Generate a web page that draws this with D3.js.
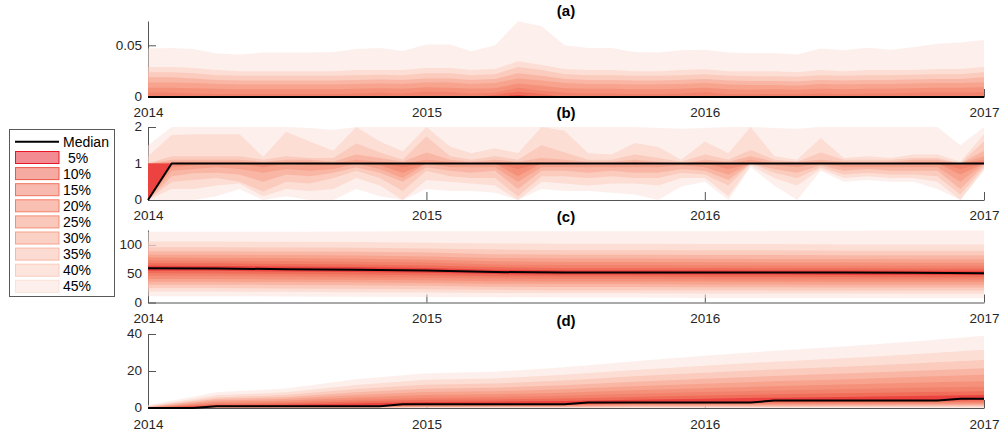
<!DOCTYPE html>
<html>
<head>
<meta charset="utf-8">
<script src="https://cdn.jsdelivr.net/npm/d3@7"></script>
<style>
  body { margin: 0; background: #fff; }
  svg { display: block; font-family: "Liberation Sans", Arial, Helvetica, sans-serif; }
</style>
</head>
<body>
<svg id="chart" width="1000" height="437"></svg>
<script>
// ---- time axis -------------------------------------------------------------
const months = [
  "2014-01","2014-02","2014-03","2014-04","2014-05","2014-06","2014-07","2014-08","2014-09","2014-10","2014-11","2014-12",
  "2015-01","2015-02","2015-03","2015-04","2015-05","2015-06","2015-07","2015-08","2015-09","2015-10","2015-11","2015-12",
  "2016-01","2016-02","2016-03","2016-04","2016-05","2016-06","2016-07","2016-08","2016-09","2016-10","2016-11","2016-12",
  "2017-01"
];
const quarters = ["2014-01","2014-04","2014-07","2014-10","2015-01","2015-04","2015-07","2015-10",
                  "2016-01","2016-04","2016-07","2016-10","2017-01"];
const yearTicks = ["2014","2015","2016","2017"];

// percentile levels of each table column
const levels = [5,10,15,20,25,30,35,40,45,50,55,60,65,70,75,80,85,90,95];
// fan bands: "5%" = 45th..55th percentile, ..., "45%" = 5th..95th percentile
const bandLabels = ["5%","10%","15%","20%","25%","30%","35%","40%","45%"];
const bandColors = ["#e71727","#ed5745","#f1735d","#f37f65","#f58f77","#f7a18b","#f9b7a5","#fbcbbd","#fbe1d9"];

// ---- (a) monthly; all percentiles up to the median are zero ----------------
const aZero = [0,0,0,0,0,0,0,0,0,0,0,0,0,0,0,0,0,0,0,0,0,0,0,0,0,0,0,0,0,0,0,0,0,0,0,0,0];
const aQ55 = [0,0,0,0,0,0,0,0,0,0,0,0,0,0,0,0,0.002,0,0,0,0,0,0,0,0,0,0,0,0,0,0,0,0,0,0,0,0];
const aQ60 = [0,0,0,0,0,0,0,0,0,0,0,0,0.001,0,0,0.002,0.005,0.003,0,0,0,0,0,0,0.001,0,0,0,0,0,0,0,0,0,0,0,0];
const aQ65 = [0.004,0.004,0.0035,0.003,0.003,0.003,0.003,0.003,0.003,0.0035,0.004,0.0035,0.005,0.0045,0.0035,0.004,0.009,0.006,0.004,0.0035,0.0035,0.003,0.003,0.0035,0.0045,0.003,0.003,0.003,0.003,0.0035,0.003,0.0035,0.0035,0.004,0.004,0.004,0.0045];
const aQ70 = [0.009,0.009,0.0085,0.008,0.0075,0.0075,0.0075,0.0075,0.0075,0.008,0.0085,0.008,0.0095,0.009,0.008,0.0085,0.013,0.011,0.0085,0.008,0.008,0.0075,0.0075,0.008,0.009,0.0075,0.007,0.0075,0.007,0.008,0.0075,0.008,0.008,0.0085,0.009,0.009,0.0095];
const aQ75 = [0.014,0.014,0.0135,0.0125,0.012,0.012,0.012,0.012,0.012,0.0125,0.013,0.0125,0.014,0.014,0.0125,0.0135,0.018,0.016,0.0135,0.0125,0.0125,0.012,0.012,0.0125,0.0135,0.012,0.0115,0.0115,0.011,0.0125,0.012,0.0125,0.0125,0.013,0.0135,0.0135,0.014];
const aQ80 = [0.019,0.019,0.018,0.0165,0.016,0.016,0.016,0.016,0.016,0.0165,0.017,0.0165,0.018,0.018,0.0165,0.0175,0.023,0.0205,0.0175,0.0165,0.0165,0.016,0.016,0.0165,0.0175,0.016,0.0155,0.0155,0.015,0.0165,0.016,0.0165,0.0165,0.017,0.0175,0.0175,0.019];
const aQ85 = [0.024,0.024,0.023,0.021,0.0205,0.0205,0.0205,0.0205,0.0205,0.021,0.0215,0.021,0.023,0.023,0.021,0.022,0.029,0.026,0.022,0.021,0.021,0.0205,0.0205,0.021,0.022,0.0205,0.02,0.02,0.0195,0.021,0.0205,0.021,0.021,0.0215,0.022,0.022,0.024];
const aQ90 = [0.029,0.029,0.028,0.026,0.025,0.025,0.025,0.025,0.025,0.026,0.026,0.026,0.028,0.028,0.026,0.027,0.0345,0.031,0.027,0.026,0.026,0.025,0.025,0.026,0.0268,0.025,0.025,0.025,0.024,0.026,0.025,0.026,0.026,0.026,0.027,0.027,0.029];
const aQ95 = [0.047,0.0474,0.0464,0.042,0.041,0.043,0.043,0.043,0.0435,0.0465,0.0474,0.0445,0.0507,0.0507,0.0442,0.05,0.0732,0.0684,0.05,0.0474,0.0474,0.0435,0.043,0.0452,0.0458,0.043,0.0423,0.0426,0.041,0.0468,0.0452,0.0477,0.0458,0.0484,0.0516,0.0526,0.0551];

// ---- (b) monthly percentiles, one row per month (q5 ... q95) ---------------
const bQuantiles = [
  [0,0,0,0,0,0,0,0,0,0, 1,1,1,1,1,1,1,1.2,1.5],
  [0,0.3,0.5,0.65,0.8,0.9,1,1,1,1, 1,1,1,1,1.05,1.1,1.2,1.78,2],
  [0,0.3,0.55,0.73,0.85,0.95,1,1,1,1, 1,1,1,1,1.05,1.1,1.2,1.8,2],
  [0.1,0.4,0.6,0.75,0.9,1,1,1,1,1, 1,1,1,1,1.05,1.1,1.2,1.8,2],
  [0.3,0.45,0.5,0.7,0.85,1,1,1,1,1, 1,1,1,1,1.05,1.1,1.2,1.8,2],
  [0,0.1,0.23,0.5,0.75,0.9,1,1,1,1, 1,1,1,1,1,1.05,1.1,1.18,2],
  [0.1,0.3,0.5,0.7,0.85,1,1,1,1,1, 1,1,1,1,1.05,1.1,1.2,1.87,2],
  [0,0.25,0.45,0.65,0.8,0.95,1,1,1,1, 1,1,1,1,1.05,1.1,1.15,1.6,1.97],
  [0,0.3,0.6,0.75,0.85,0.95,1,1,1,1, 1,1,1,1,1,1.05,1.15,1.35,1.92],
  [0.3,0.6,0.8,0.9,1,1,1,1,1,1, 1,1,1,1,1.1,1.25,1.55,2,2],
  [0.1,0.4,0.6,0.75,0.85,0.95,1,1,1,1, 1,1,1,1,1.05,1.15,1.3,1.6,2],
  [0,0,0.25,0.5,0.6,0.75,0.9,1,1,1, 1,1,1,1,1,1.05,1.1,1.33,2],
  [0.3,0.55,0.8,0.9,1,1,1,1,1,1, 1,1,1,1,1.1,1.3,1.74,2,2],
  [0.25,0.5,0.65,0.8,0.9,1,1,1,1,1, 1,1,1,1,1.05,1.1,1.2,1.46,2],
  [0.25,0.45,0.6,0.75,0.9,1,1,1,1,1, 1,1,1,1,1,1.05,1.1,1.28,2],
  [0.2,0.4,0.6,0.8,0.9,1,1,1,1,1, 1,1,1,1,1.05,1.1,1.2,1.42,2],
  [0,0,0.1,0.3,0.5,0.65,0.85,1,1,1, 1,1,1,1,1,1.05,1.1,1.28,2],
  [0.3,0.5,0.65,0.8,0.9,1,1,1,1,1, 1,1,1,1,1.05,1.15,1.5,2,2],
  [0.25,0.45,0.65,0.8,0.9,1,1,1,1,1, 1,1,1,1,1.05,1.1,1.3,1.9,2],
  [0.25,0.4,0.6,0.75,0.9,1,1,1,1,1, 1,1,1,1,1,1.05,1.1,1.28,2],
  [0.2,0.45,0.65,0.8,0.9,1,1,1,1,1, 1,1,1,1,1,1.05,1.1,1.25,2],
  [0.15,0.45,0.6,0.75,0.9,1,1,1,1,1, 1,1,1,1,1.05,1.1,1.25,1.56,2],
  [0,0.4,0.6,0.75,0.9,1,1,1,1,1, 1,1,1,1,1,1.05,1.15,1.45,1.97],
  [0.37,0.6,0.75,0.85,0.95,1,1,1,1,1, 1,1,1,1,1,1,1.05,1.1,1.95],
  [0.5,0.6,0.7,0.8,0.9,1,1,1,1,1, 1,1,1,1,1.05,1.1,1.25,1.6,1.97],
  [0,0.1,0.4,0.55,0.7,0.85,1,1,1,1, 1,1,1,1,1,1.05,1.1,1.28,2],
  [0.9,0.95,1,1,1,1,1,1,1,1, 1,1,1,1,1.1,1.2,1.37,2,2],
  [0.4,0.6,0.75,0.85,0.95,1,1,1,1,1, 1,1,1,1,1,1.05,1.1,1.2,1.97],
  [0,0.4,0.6,0.75,0.9,1,1,1,1,1, 1,1,1,1,1,1.05,1.05,1.1,1.95],
  [0.8,0.85,0.9,0.95,1,1,1,1,1,1, 1,1,1,1,1.05,1.1,1.3,1.7,2],
  [0.5,0.6,0.7,0.8,0.9,1,1,1,1,1, 1,1,1,1,1,1.05,1.1,1.15,2],
  [0.55,0.65,0.75,0.85,0.9,1,1,1,1,1, 1,1,1,1,1,1.05,1.1,1.2,2],
  [0.5,0.6,0.7,0.8,0.9,1,1,1,1,1, 1,1,1,1,1,1.05,1.1,1.15,2],
  [0.5,0.6,0.7,0.8,0.9,1,1,1,1,1, 1,1,1,1,1.05,1.1,1.15,1.25,2],
  [0.3,0.5,0.65,0.8,0.9,1,1,1,1,1, 1,1,1,1,1.05,1.1,1.15,1.25,2],
  [0,0,0.15,0.3,0.5,0.7,0.85,1,1,1, 1,1,1,1,1,1,1,1.05,1.5],
  [0.8,0.85,0.9,0.95,1,1,1,1,1,1, 1,1,1.05,1.1,1.2,1.35,1.6,1.8,2]
];

// ---- (c) quarterly percentiles (q5 ... q95) --------------------------------
const cQuantiles = [
  [11,19,25,31,36,41,46,51,55,59.5,64,68,73,78,83,89,96,106,123],
  [11,19,25,31,36,41,46,50.5,55,59,63.5,68,72.5,77.5,83,89,96,106,123],
  [10.5,18.5,24.5,30.5,35.5,40,45,49.5,54,58,62.5,67,72,77,82.5,88.5,95.5,105.5,123],
  [10,18,24,30,35,39.5,44,48.5,53,57,61.5,66,71,76,81.5,88,95,105,123.5],
  [9.5,17.5,23,29,34,38.5,43,47.5,51.5,55.5,60,64.5,69.5,74.5,80,87,94,104,124],
  [9,16.5,22,27.5,32.5,37,41.5,45.5,49.5,53,57,61.5,66,71.5,77.5,84,92,102.5,124],
  [8.5,16,21.5,27,32,36.5,41,45,48.5,52,56,60,65,70.5,76.5,83,91,102,124],
  [8.5,16,21.5,27,32,36.5,41,45,48.5,52,56,60,65,70.5,76.5,83,91,102,124],
  [8,15.5,21.5,26.5,31.5,36.5,40.5,44.5,48.5,52,56,60,64.5,70,76,82.5,90.5,101.5,124],
  [8,15.5,21,26.5,31.5,36,40.5,44.5,48.5,52,55.5,59.5,64.5,69.5,75.5,82.5,90.5,101.5,124.5],
  [8,15.5,21,26,31,36,40.5,44.5,48,52,55.5,59.5,64,69.5,75.5,82,90,101,124.5],
  [7.5,15,21,26,31,36,40,44,48,51.5,55,59,64,69,75,82,90,101,125],
  [7.5,15,21,26,31,36,40,44,48,51,55,59,64,69,75,82,90,101,125]
];

// ---- (d) quarterly percentiles (q5 ... q95) and monthly median -------------
const dQuantiles = [
  [0,0,0,0,0,0,0,0,0,0, 0,0,0.1,0.2,0.3,0.5,0.8,1.1,1.6],
  [0,0,0,0.1,0.2,0.4,0.6,0.8,0.9,1, 1.4,1.9,2.5,3.2,4,4.8,5.7,6.9,8.5],
  [0,0,0.1,0.2,0.3,0.5,0.7,0.8,0.9,1, 1.7,2.4,3.1,3.9,4.8,5.8,7,8.5,10.6],
  [0,0,0.1,0.2,0.4,0.6,0.8,0.9,1,1, 2.5,3.5,4.5,5.7,7,8.5,10.3,12.5,15.5],
  [0,0.1,0.3,0.5,0.7,1,1.3,1.6,1.8,2, 3.2,4.4,5.6,7,8.6,10.4,12.6,15.3,18.8],
  [0,0.1,0.3,0.5,0.8,1.1,1.4,1.7,1.9,2, 3.4,4.6,5.9,7.4,9,10.9,13.2,16,19.6],
  [0,0.1,0.3,0.6,0.9,1.2,1.5,1.7,1.9,2, 3.8,5.1,6.6,8.3,10.2,12.3,14.8,18,22],
  [0,0.2,0.5,0.8,1.2,1.6,2,2.4,2.7,3, 4.5,6,7.7,9.6,11.8,14.2,17.1,20.6,25.3],
  [0,0.2,0.5,0.9,1.3,1.7,2.1,2.5,2.8,3, 5,6.7,8.6,10.7,13.1,15.8,19,22.9,28.3],
  [0,0.2,0.6,1,1.5,2,2.5,3,3.5,4, 5.6,7.4,9.5,11.8,14.4,17.3,20.8,25,31],
  [0,0.3,0.7,1.1,1.6,2.1,2.7,3.2,3.6,4, 6,8,10.2,12.7,15.4,18.6,22.3,26.9,33.3],
  [0,0.3,0.7,1.2,1.7,2.2,2.8,3.3,3.8,4, 6.5,8.5,10.9,13.6,16.7,20,24,29,36],
  [0,0.3,0.8,1.3,1.8,2.4,3,3.7,4.4,5, 7,9,11.5,14.5,18,21.5,26,31.5,39]
];
const dMedian = [0,0,0,1,1,1,1,1,1,1,1,2,2,2,2,2,2,2,2,3,3,3,3,3,3,3,3,4,4,4,4,4,4,4,4,5,5];

// ---- axis ticks ------------------------------------------------------------
const aTicks = [0, 0.05], aTickLabels = ["0", "0.05"];
const bTicks = [0, 1, 2],  bTickLabels = ["0", "1", "2"];
const cTicks = [0, 50, 100], cTickLabels = ["0", "50", "100"];
const dTicks = [0, 20, 40], dTickLabels = ["0", "20", "40"];

// ---------------------------------------------------------------------------
const parseMonth = d3.timeParse("%Y-%m");
const parseYear = d3.timeParse("%Y");
const svg = d3.select("#chart");
const axisColor = "#555";
const textColor = "#262626";

const x = d3.scaleTime()
  .domain([parseMonth(months[0]), parseMonth(months[months.length - 1])])
  .range([148, 984]);

// turn a time-by-level table into a lookup of one series per level
function byLevel(table) {
  const out = {};
  levels.forEach((lv, j) => { out[lv] = table.map(row => row[j]); });
  return out;
}

const panels = [
  {
    title: "(a)", titleY: 16, top: 21, bottom: 97, domain: [0, 0.0735],
    ticks: aTicks, tickLabels: aTickLabels, labelPad: 10,
    dates: months, median: aZero, dates2: months,
    q: {5: aZero, 10: aZero, 15: aZero, 20: aZero, 25: aZero, 30: aZero, 35: aZero, 40: aZero, 45: aZero,
        55: aQ55, 60: aQ60, 65: aQ65, 70: aQ70, 75: aQ75, 80: aQ80, 85: aQ85, 90: aQ90, 95: aQ95}
  },
  {
    title: "(b)", titleY: 118, top: 127, bottom: 200, domain: [0, 2],
    ticks: bTicks, tickLabels: bTickLabels, labelPad: 10,
    dates: months, q: byLevel(bQuantiles),
    median: bQuantiles.map(r => r[9]), dates2: months
  },
  {
    title: "(c)", titleY: 222, top: 230, bottom: 302.5, domain: [0, 126],
    ticks: cTicks, tickLabels: cTickLabels, labelPad: 10.5,
    dates: quarters, q: byLevel(cQuantiles),
    median: cQuantiles.map(r => r[9]), dates2: quarters
  },
  {
    title: "(d)", titleY: 326, top: 334, bottom: 408, domain: [0, 40],
    ticks: dTicks, tickLabels: dTickLabels, labelPad: 11,
    dates: quarters, q: byLevel(dQuantiles),
    median: dMedian, dates2: months
  }
];

panels.forEach(p => {
  const g = svg.append("g");
  const y = d3.scaleLinear().domain(p.domain).range([p.bottom, p.top]);

  // axes sit underneath the translucent fan
  const yAxis = d3.axisLeft(y)
    .tickValues(p.ticks)
    .tickFormat((d, i) => p.tickLabels[i])
    .tickSizeInner(-8).tickSizeOuter(0).tickPadding(6);
  const ya = g.append("g").attr("transform", "translate(148,0)").call(yAxis);
  ya.selectAll("text").attr("dy", "0.28em");

  const xAxis = d3.axisBottom(x)
    .tickValues(yearTicks.map(parseYear))
    .tickFormat((d, i) => yearTicks[i])
    .tickSizeInner(-8).tickSizeOuter(0).tickPadding(p.labelPad);
  const xa = g.append("g").attr("transform", `translate(0,${p.bottom})`).call(xAxis);

  [ya, xa].forEach(a => {
    a.attr("font-size", 13.5).attr("font-family", null);
    a.selectAll("path, line").attr("stroke", axisColor);
    a.selectAll("text").attr("fill", textColor);
  });

  // bands, widest first
  const dates = p.dates.map(parseMonth);
  for (let i = bandLabels.length - 1; i >= 0; i--) {
    const lo = p.q[45 - 5 * i], hi = p.q[55 + 5 * i];
    const area = d3.area()
      .x((d, k) => x(dates[k]))
      .y0((d, k) => y(lo[k]))
      .y1((d, k) => y(hi[k]));
    g.append("path")
      .datum(dates)
      .attr("d", area)
      .attr("fill", bandColors[i])
      .attr("fill-opacity", 0.5)
      .attr("stroke", "none");
  }

  // median
  const mDates = p.dates2.map(parseMonth);
  g.append("path")
    .datum(p.median)
    .attr("d", d3.line().x((d, k) => x(mDates[k])).y(d => y(d)))
    .attr("fill", "none")
    .attr("stroke", "#000")
    .attr("stroke-width", 2)
    .attr("stroke-linejoin", "round");

  g.append("text")
    .attr("x", 566).attr("y", p.titleY)
    .attr("text-anchor", "middle")
    .attr("font-size", 15).attr("font-weight", "bold")
    .attr("fill", "#000")
    .text(p.title);
});

// ---- legend ----------------------------------------------------------------
const legend = svg.append("g");
legend.append("rect")
  .attr("x", 9.5).attr("y", 129.5).attr("width", 105).attr("height", 167)
  .attr("fill", "#fff").attr("stroke", "#5a5a5a").attr("stroke-width", 1);
legend.append("line")
  .attr("x1", 15).attr("x2", 59).attr("y1", 141.7).attr("y2", 141.7)
  .attr("stroke", "#000").attr("stroke-width", 2);
legend.append("text")
  .attr("x", 63).attr("y", 146.7).attr("font-size", 14).attr("fill", "#000")
  .text("Median");
bandLabels.forEach((lab, i) => {
  const cy = 157.5 + 16.1 * i;
  legend.append("rect")
    .attr("x", 15.5).attr("y", cy - 6).attr("width", 43.5).attr("height", 12)
    .attr("fill", bandColors[i]).attr("fill-opacity", 0.5)
    .attr("stroke", bandColors[i]).attr("stroke-width", 1);
  legend.append("text")
    .attr("x", i === 0 ? 68 : 63).attr("y", cy + 5)
    .attr("font-size", 14).attr("fill", "#000")
    .text(lab);
});
</script>
</body>
</html>
